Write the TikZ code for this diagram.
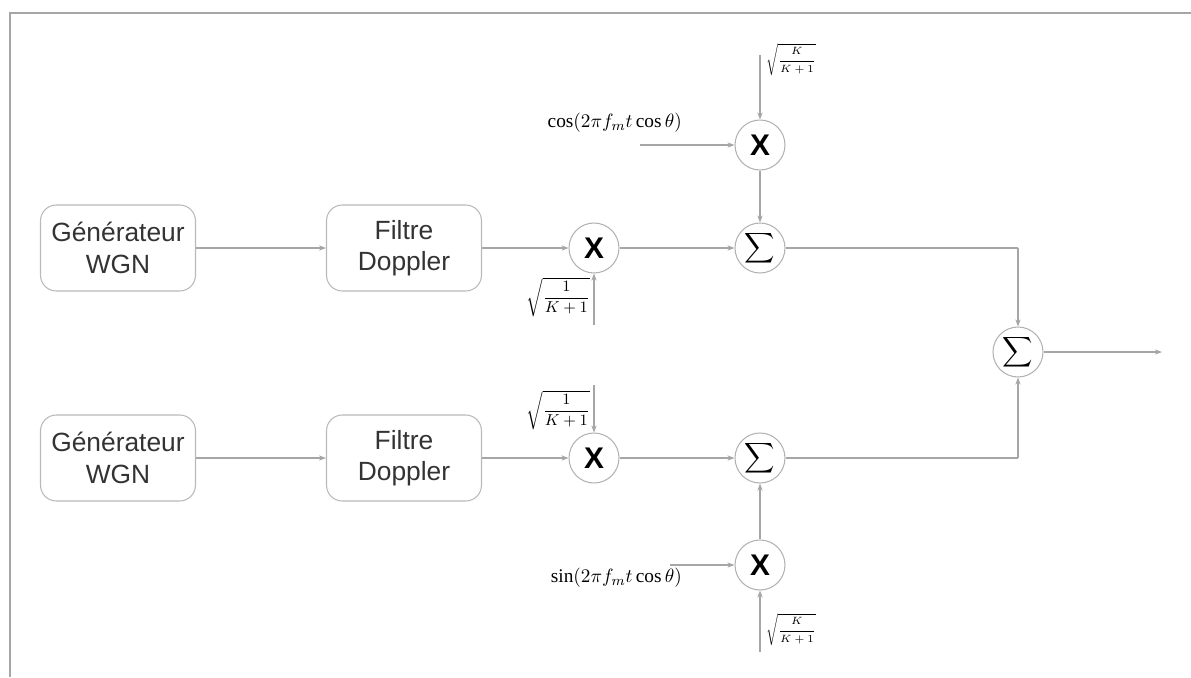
\documentclass[tikz,border=0pt]{standalone}
\usepackage{amsmath}
\usepackage{fontspec}
\setmainfont{Liberation Serif}
\setsansfont{Liberation Sans}
\usetikzlibrary{arrows.meta}
\begin{document}
\begin{tikzpicture}[x=0.02cm,y=-0.02cm,
  blk/.style={draw=gray!55, line width=0.6pt, rounded corners=9pt, minimum width=3.1cm, minimum height=1.72cm, align=center, font=\sffamily\fontsize{15}{18}\selectfont, text=black!80},
  op/.style={circle, draw=gray!60, line width=0.6pt, minimum size=1cm, inner sep=0pt},
  wire/.style={draw=gray!70, line width=0.6pt},
  arr/.style={wire, -{Stealth[length=4pt,width=3pt]}},
  xs/.style={font=\sffamily\bfseries\fontsize{17}{17}\selectfont},
  sg/.style={font=\fontsize{13}{13}\selectfont}]
\useasboundingbox (0,0) rectangle (1191,677);
\draw[gray!70, line width=1.2pt] (10,677) -- (10,13) -- (1191,13);

% top row
\node[blk] (g1) at (118,248) {Générateur\\WGN};
\node[blk] (f1) at (404,248) {Filtre\\Doppler};
\node[op,xs] (x1) at (594,248) {X};
\node[op,sg] (s1) at (760,248) {$\displaystyle\sum$};
\node[op,xs] (xt) at (760,145) {X};
\node[op,sg] (sf) at (1018,352) {$\displaystyle\sum$};
% bottom row
\node[blk] (g2) at (118,458) {Générateur\\WGN};
\node[blk] (f2) at (404,458) {Filtre\\Doppler};
\node[op,xs] (x2) at (594,458) {X};
\node[op,sg] (s2) at (760,458) {$\displaystyle\sum$};
\node[op,xs] (xb) at (760,565) {X};

% free ends
\coordinate (tk) at (760,55);
\coordinate (cosin) at (640,145);
\coordinate (k1b) at (594,325);
\coordinate (k1t) at (594,385);
\coordinate (sinin) at (670,565);
\coordinate (bk) at (760,652);
\coordinate (c1) at (1018,248);
\coordinate (c2) at (1018,458);
\coordinate (out) at (1162,352);

% labels
\node[font=\fontsize{6}{7}\selectfont, anchor=west, inner sep=1pt] (ltk) at (764,60) {$\sqrt{\dfrac{K}{K+1}}$};
\node[font=\fontsize{11}{13}\selectfont, anchor=east, inner sep=1pt] (lcos) at (684,123) {$\cos(2\pi f_m t\cos\theta)$};
\node[font=\fontsize{9}{11}\selectfont, anchor=east, inner sep=1pt] (l1b) at (592,297) {$\sqrt{\dfrac{1}{K+1}}$};
\node[font=\fontsize{9}{11}\selectfont, anchor=east, inner sep=1pt] (l1t) at (592,410) {$\sqrt{\dfrac{1}{K+1}}$};
\node[font=\fontsize{11}{13}\selectfont, anchor=east, inner sep=1pt] (lsin) at (684,578) {$\sin(2\pi f_m t\cos\theta)$};
\node[font=\fontsize{6}{7}\selectfont, anchor=west, inner sep=1pt] (lbk) at (764,630) {$\sqrt{\dfrac{K}{K+1}}$};

% connectors top
\draw[arr] (g1) -- (f1);
\draw[arr] (f1) -- (x1);
\draw[arr] (x1) -- (s1);
\draw[arr] (k1b) -- (x1);
\draw[arr] (tk) -- (xt);
\draw[arr] (cosin) -- (xt);
\draw[arr] (xt) -- (s1);
\draw[wire] (s1) -- (c1);
\draw[arr] (c1) -- (sf);
\draw[arr] (sf) -- (out);
% connectors bottom
\draw[arr] (g2) -- (f2);
\draw[arr] (f2) -- (x2);
\draw[arr] (x2) -- (s2);
\draw[arr] (k1t) -- (x2);
\draw[arr] (xb) -- (s2);
\draw[arr] (sinin) -- (xb);
\draw[arr] (bk) -- (xb);
\draw[wire] (s2) -- (c2);
\draw[arr] (c2) -- (sf);
\end{tikzpicture}
\end{document}
